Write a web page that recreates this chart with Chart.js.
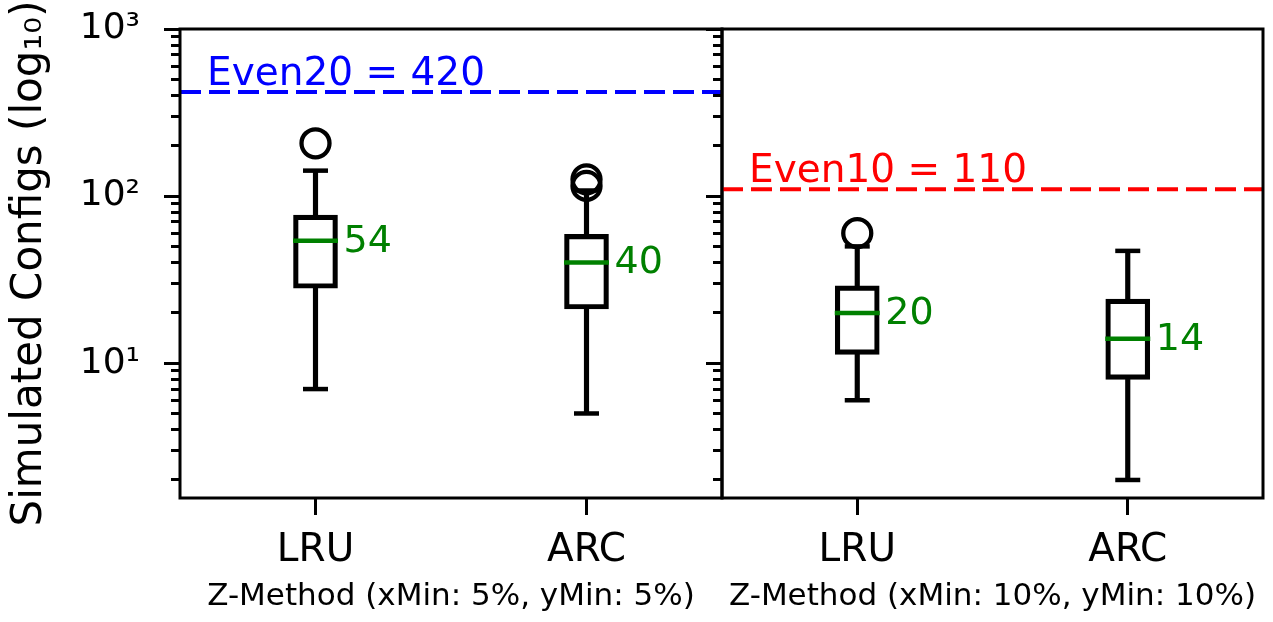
<!DOCTYPE html>
<html>
<head>
<meta charset="utf-8">
<script src="https://cdn.jsdelivr.net/npm/chart.js@4.4.1/dist/chart.umd.min.js"></script>
<style>
  html, body { margin: 0; padding: 0; background: #ffffff; }
  body { width: 1273px; height: 622px; position: relative; overflow: hidden; }
  canvas { position: absolute; top: 0; }
  #leftChart { left: 0px; }
  #rightChart { left: 700px; }
</style>
</head>
<body>
<canvas id="leftChart" width="740" height="622"></canvas>
<canvas id="rightChart" width="573" height="622"></canvas>
<script>
// ---------------- data ----------------
const categories = ['LRU', 'ARC'];

// Left panel: Z-Method (xMin: 5%, yMin: 5%)
const leftTitle = 'Z-Method (xMin: 5%, yMin: 5%)';
const leftQ1 = [28.1, 21.1];
const leftMedian = [54, 40];
const leftQ3 = [77, 59];
const leftWhiskerLow = [7, 5];
const leftWhiskerHigh = [142, 108];
const leftOutliersLRU = [207];
const leftOutliersARC = [115, 126];
const leftRefValue = 420;
const leftRefLabel = 'Even20 = 420';

// Right panel: Z-Method (xMin: 10%, yMin: 10%)
const rightTitle = 'Z-Method (xMin: 10%, yMin: 10%)';
const rightQ1 = [11.3, 8.0];
const rightMedian = [20, 14];
const rightQ3 = [29, 24.2];
const rightWhiskerLow = [6, 2];
const rightWhiskerHigh = [50, 47];
const rightOutliersLRU = [60];
const rightOutliersARC = [];
const rightRefValue = 110;
const rightRefLabel = 'Even10 = 110';

// axis
const yMin = 1.56;
const yMax = 1000;
const yTickValues = [2, 3, 4, 5, 6, 7, 8, 9, 10, 20, 30, 40, 50, 60, 70, 80, 90, 100,
                     200, 300, 400, 500, 600, 700, 800, 900, 1000];
const yMajorTicks = [10, 100, 1000];
const yMajorLabels = ['10¹', '10²', '10³'];
const yAxisTitle = 'Simulated Configs (log₁₀)';

// ---------------- styles ----------------
const FONT = '"DejaVu Sans"';
Chart.defaults.font.family = FONT;
Chart.defaults.color = '#000';
const GREEN = '#008000';

function buildConfig(p) {
  const outlierData = [];
  p.outliersLRU.forEach(v => outlierData.push({ x: categories[0], y: v }));
  p.outliersARC.forEach(v => outlierData.push({ x: categories[1], y: v }));

  const annotPlugin = {
    id: 'annot_' + p.id,
    afterDatasetsDraw(chart) {
      const ctx = chart.ctx;
      const area = chart.chartArea;
      const ys = chart.scales.y;
      // reference line
      const yRef = ys.getPixelForValue(p.refValue);
      ctx.save();
      ctx.strokeStyle = p.refColor;
      ctx.lineWidth = 4;
      ctx.setLineDash([21, 8]);
      ctx.beginPath();
      ctx.moveTo(area.left, yRef);
      ctx.lineTo(area.right, yRef);
      ctx.stroke();
      ctx.setLineDash([]);
      ctx.fillStyle = p.refColor;
      ctx.font = '39px ' + FONT;
      ctx.textAlign = 'left';
      ctx.textBaseline = 'alphabetic';
      ctx.fillText(p.refLabel, area.left + 27, yRef - 7);
      // median labels
      const meta = chart.getDatasetMeta(0);
      ctx.font = '38px ' + FONT;
      ctx.fillStyle = GREEN;
      ctx.textBaseline = 'middle';
      meta.data.forEach((pt, i) => {
        ctx.fillText(String(p.median[i]), pt.x + 28, pt.y + 1);
      });
      ctx.restore();
    },
    afterDraw(chart) {
      const ctx = chart.ctx;
      const a = chart.chartArea;
      ctx.save();
      ctx.strokeStyle = '#000';
      ctx.lineWidth = 3;
      ctx.strokeRect(a.left, a.top, a.right - a.left, a.bottom - a.top);
      ctx.restore();
    }
  };

  return {
    type: 'bar',
    data: {
      labels: categories,
      datasets: [
        { type: 'line', label: 'median', data: p.median, showLine: false,
          pointStyle: 'line', pointRadius: 22.5, pointHoverRadius: 22.5,
          pointBorderWidth: 4.5, pointBorderColor: GREEN, borderColor: GREEN, order: 0 },
        { type: 'bar', label: 'box', data: p.q1.map((v, i) => [v, p.q3[i]]),
          backgroundColor: 'rgba(0,0,0,0)', borderColor: '#000', borderWidth: 4.5,
          borderSkipped: false, barThickness: 44, grouped: false, order: 1 },
        { type: 'bar', label: 'whiskerLow', data: p.wLow.map((v, i) => [v, p.q1[i]]),
          backgroundColor: '#000', borderWidth: 0, barThickness: 4.5, grouped: false, order: 2 },
        { type: 'bar', label: 'whiskerHigh', data: p.q3.map((v, i) => [v, p.wHigh[i]]),
          backgroundColor: '#000', borderWidth: 0, barThickness: 4.5, grouped: false, order: 2 },
        { type: 'line', label: 'capLow', data: p.wLow, showLine: false,
          pointStyle: 'line', pointRadius: 12.5, pointHoverRadius: 12.5,
          pointBorderWidth: 4.5, pointBorderColor: '#000', borderColor: '#000', order: 2 },
        { type: 'line', label: 'capHigh', data: p.wHigh, showLine: false,
          pointStyle: 'line', pointRadius: 12.5, pointHoverRadius: 12.5,
          pointBorderWidth: 4.5, pointBorderColor: '#000', borderColor: '#000', order: 2 },
        { type: 'line', label: 'outliers', data: outlierData, showLine: false,
          pointStyle: 'circle', pointRadius: 14, pointHoverRadius: 14,
          pointBorderWidth: 4.3, pointBorderColor: '#000',
          pointBackgroundColor: 'rgba(0,0,0,0)', backgroundColor: 'rgba(0,0,0,0)', order: 1 }
      ]
    },
    options: {
      responsive: false,
      animation: false,
      devicePixelRatio: 1,
      layout: { autoPadding: false, padding: { top: 29, right: p.padRight, left: 0, bottom: 0 } },
      plugins: { legend: { display: false }, tooltip: { enabled: false } },
      scales: {
        x: {
          type: 'category',
          offset: true,
          grid: { offset: false, drawOnChartArea: false, drawTicks: true, tickLength: 17,
                  tickWidth: 3, tickColor: '#000' },
          border: { display: false },
          ticks: { padding: 12, font: { size: 39 }, color: '#000', maxRotation: 0, autoSkip: false },
          title: { display: true, text: p.title, font: { size: 31 }, color: '#000',
                   padding: { top: 0, bottom: 6 } },
          afterFit: s => { s.height = 124; s.paddingLeft = 0; s.paddingRight = 0; }
        },
        y: {
          type: 'logarithmic',
          min: yMin, max: yMax,
          afterBuildTicks: s => {
            s.ticks = yTickValues.map(v => ({ value: v, major: yMajorTicks.includes(v) }));
          },
          afterFit: s => { s.width = p.yAxisWidth; s.paddingTop = 0; s.paddingBottom = 0; },
          ticks: {
            autoSkip: false, padding: 24, font: { size: 36 }, color: '#000',
            callback: (v) => {
              if (!p.showYLabels) return '';
              const k = yMajorTicks.indexOf(v);
              return k >= 0 ? yMajorLabels[k] : '';
            }
          },
          grid: {
            drawOnChartArea: false, drawTicks: true, tickLength: 16, tickWidth: 3, tickColor: '#000',
            tickBorderDash: (c) => (c.tick && yMajorTicks.includes(c.tick.value)) ? [] : [0, 7, 9, 40]
          },
          border: { display: false },
          title: { display: p.showYLabels, text: yAxisTitle, font: { size: 42 }, color: '#000',
                   padding: { top: 5, bottom: 0 } }
        }
      }
    },
    plugins: [annotPlugin]
  };
}

new Chart(document.getElementById('leftChart'), buildConfig({
  id: 'left', title: leftTitle, q1: leftQ1, median: leftMedian, q3: leftQ3,
  wLow: leftWhiskerLow, wHigh: leftWhiskerHigh,
  outliersLRU: leftOutliersLRU, outliersARC: leftOutliersARC,
  refValue: leftRefValue, refLabel: leftRefLabel, refColor: '#0000ff',
  padRight: 18, yAxisWidth: 180, showYLabels: true
}));

new Chart(document.getElementById('rightChart'), buildConfig({
  id: 'right', title: rightTitle, q1: rightQ1, median: rightMedian, q3: rightQ3,
  wLow: rightWhiskerLow, wHigh: rightWhiskerHigh,
  outliersLRU: rightOutliersLRU, outliersARC: rightOutliersARC,
  refValue: rightRefValue, refLabel: rightRefLabel, refColor: '#ff0000',
  padRight: 10, yAxisWidth: 22, showYLabels: false
}));
</script>
</body>
</html>
